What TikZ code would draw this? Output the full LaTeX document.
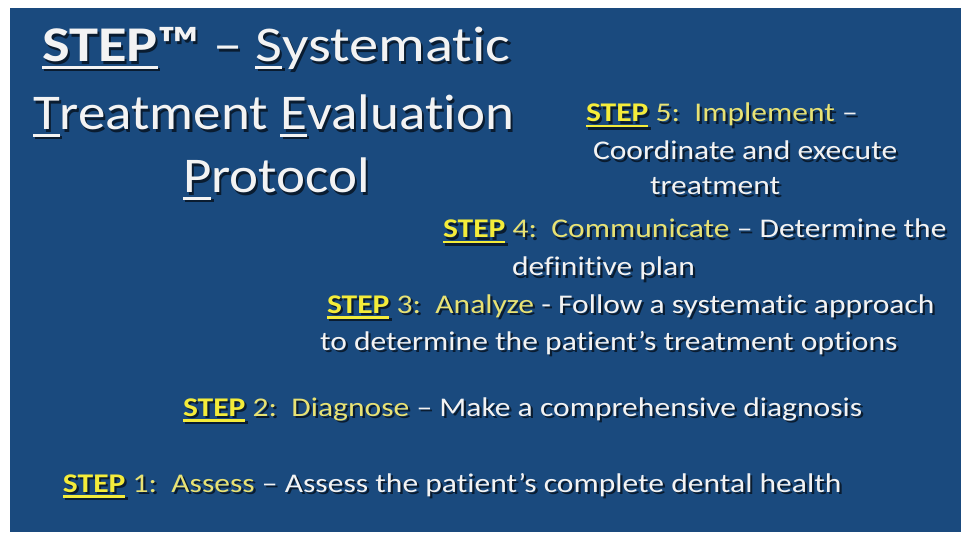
\documentclass[tikz,border=0pt]{standalone}
\usepackage{fontspec}
\setmainfont{Carlito}[Ligatures=NoCommon]
\newfontfamily\titlewide{Carlito}[FakeStretch=1.17,Ligatures=NoCommon]
\newfontfamily\titlefont{Carlito}[FakeStretch=1.1,Ligatures=NoCommon]
\newfontfamily\stepfont{Carlito}[FakeStretch=1.17,Ligatures=NoCommon]
\definecolor{slidebg}{HTML}{1A4A7E}
\definecolor{stepyel}{HTML}{F4EC3A}
\definecolor{paleyel}{HTML}{E8E274}
\definecolor{softwht}{HTML}{F3F3F3}
\colorlet{dropshade}{black!62!slidebg}
% colour switches used inside the texts; the drop shadow turns them off
\newcommand\yel{\color{stepyel}}
\newcommand\pale{\color{paleyel}}
% underline: #1 depth below baseline, #2 rule thickness, #3 text
\newcommand\ulin[3]{\setbox0\hbox{#3}\rlap{\rule[-#1]{\wd0}{#2}}\box0}
\newcommand\tul[1]{\ulin{7pt}{3.2pt}{#1}}
\newcommand\sul[1]{\ulin{5.5pt}{2.4pt}{#1}}
% text with a dark drop shadow set behind it, offset down and right
\newcommand\shad[1]{%
  \rlap{\kern2.2pt\raisebox{-2.2pt}{\let\yel\relax\let\pale\relax\color{dropshade}#1}}#1}
\begin{document}
\begin{tikzpicture}[x=1pt,y=-1pt,
  txt/.style={anchor=base west,inner sep=0pt,outer sep=0pt,text=softwht},
  titlewideline/.style={txt,font=\titlewide\fontsize{50}{50}\selectfont},
  titleline/.style={txt,font=\titlefont\fontsize{50}{50}\selectfont},
  stepline/.style={txt,font=\stepfont\fontsize{27}{27}\selectfont}]
\useasboundingbox (0,0) rectangle (961,537);
\fill[white] (0,0) rectangle (961,537);
\fill[slidebg] (10,8) rectangle (961,532);
% title
\node[titlewideline] (t1) at (42,62) {\shad{\textbf{\tul{STEP}™} – \tul{S}ystematic}};
\node[titleline] (t2) at (33,130) {\shad{\tul{T}reatment \tul{E}valuation}};
\node[titleline] (t3) at (183,193) {\shad{\tul{P}rotocol}};
% step 5
\node[stepline] (s5a) at (586,122) {\shad{{\yel\textbf{\sul{STEP}}}{\pale~5:~~Implement} –}};
\node[stepline] (s5b) at (593,160) {\shad{Coordinate and execute}};
\node[stepline] (s5c) at (650,195) {\shad{treatment}};
% step 4
\node[stepline] (s4a) at (443,238) {\shad{{\yel\textbf{\sul{STEP}}}{\pale~4:~~Communicate} – Determine the}};
\node[stepline] (s4b) at (512,276) {\shad{definitive plan}};
% step 3
\node[stepline] (s3a) at (327,313) {\shad{{\yel\textbf{\sul{STEP}}}{\pale~3:~~Analyze} - Follow a systematic approach}};
\node[stepline] (s3b) at (320,350) {\shad{to determine the patient’s treatment options}};
% step 2
\node[stepline] (s2) at (183,416) {\shad{{\yel\textbf{\sul{STEP}}}{\pale~2:~~Diagnose} – Make a comprehensive diagnosis}};
% step 1
\node[stepline] (s1) at (63,492) {\shad{{\yel\textbf{\sul{STEP}}}{\pale~1:~~Assess} – Assess the patient’s complete dental health}};
\end{tikzpicture}
\end{document}
